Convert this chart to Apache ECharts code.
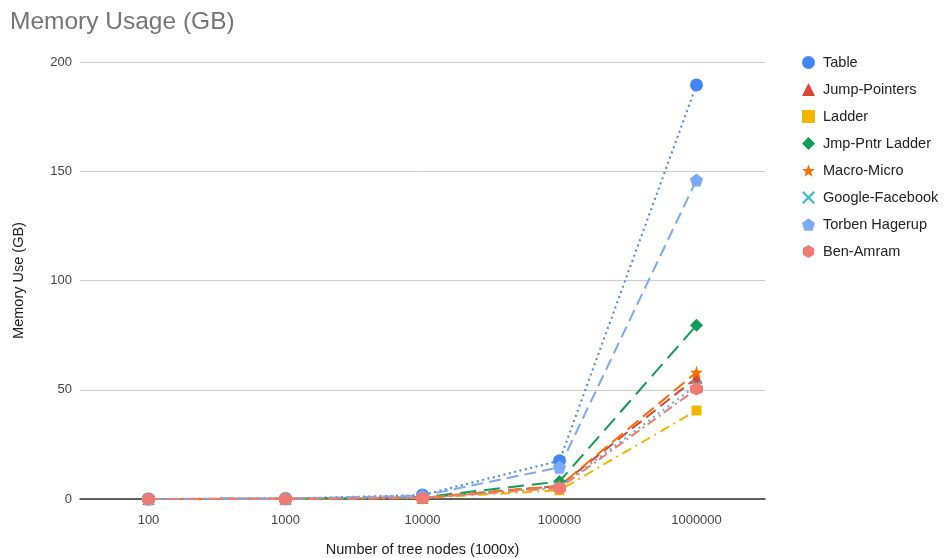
<!DOCTYPE html>
<html>
<head>
<meta charset="utf-8">
<script src="https://cdn.jsdelivr.net/npm/echarts@6/dist/echarts.min.js"></script>
<style>
html,body{margin:0;padding:0;background:#fff;overflow:hidden;}
#chart{width:945px;height:558px;}
</style>
</head>
<body>
<div id="chart"></div>
<script>
// Tree sizes (in thousands of nodes)
const categories = ['100', '1000', '10000', '100000', '1000000'];

// Memory use in GB for each structure
const table          = [0.02, 0.2, 1.8, 17.5, 189.5];
const jumpPointers   = [0.01, 0.1, 0.6, 6.0, 55.5];
const ladder         = [0.01, 0.05, 0.4, 4.0, 40.5];
const jmpPntrLadder  = [0.01, 0.1, 0.8, 8.0, 79.5];
const macroMicro     = [0.01, 0.1, 0.6, 6.0, 58.0];
const googleFacebook = [0.01, 0.1, 0.5, 5.5, 52.0];
const torbenHagerup  = [0.02, 0.15, 1.5, 14.5, 146.0];
const benAmram       = [0.01, 0.05, 0.5, 5.0, 50.3];

const yTicks = [0, 50, 100, 150, 200];

const FONT = '"Liberation Sans", Arial, sans-serif';

const STAR = 'path://M0,-10 L2.35,-3.24 L9.51,-3.09 L3.8,1.24 L5.88,8.09 L0,4 L-5.88,8.09 L-3.8,1.24 L-9.51,-3.09 L-2.35,-3.24Z';
const CROSS = 'path://M-8,-6 L-6,-8 L0,-2 L6,-8 L8,-6 L2,0 L8,6 L6,8 L0,2 L-6,8 L-8,6 L-2,0Z';
const PENTAGON = 'path://M0,-10 L9.51,-3.09 L5.88,8.09 L-5.88,8.09 L-9.51,-3.09Z';
const HEXAGON = 'path://M8.66,-5 L8.66,5 L0,10 L-8.66,5 L-8.66,-5 L0,-10Z';

const seriesDefs = [
  { name: 'Table',            data: table,          color: '#4285F4', symbol: 'circle',   size: 13, dash: [2, 3.5] },
  { name: 'Jump-Pointers',    data: jumpPointers,   color: '#DB4437', symbol: 'triangle', size: 12, dash: [12, 6] },
  { name: 'Ladder',           data: ladder,         color: '#F4B400', symbol: 'rect',     size: 10, dash: [10, 5, 2, 5] },
  { name: 'Jmp-Pntr Ladder',  data: jmpPntrLadder,  color: '#0F9D58', symbol: 'diamond',  size: 13, dash: [16, 8] },
  { name: 'Macro-Micro',      data: macroMicro,     color: '#FF6D01', symbol: STAR,       size: 13, dash: [14, 6] },
  { name: 'Google-Facebook',  data: googleFacebook, color: '#46BDC6', symbol: CROSS,      size: 11, dash: [2, 4] },
  { name: 'Torben Hagerup',   data: torbenHagerup,  color: '#7BAAF7', symbol: PENTAGON,   size: 13, dash: [12, 6] },
  { name: 'Ben-Amram',        data: benAmram,       color: '#F07B72', symbol: HEXAGON,    size: 13, dash: [10, 4, 2, 4] }
];

const chart = echarts.init(document.getElementById('chart'), null, { renderer: 'canvas', width: 945, height: 558 });

chart.setOption({
  backgroundColor: '#ffffff',
  animation: false,
  title: {
    text: 'Memory Usage (GB)',
    left: 5,
    top: 5,
    textStyle: { fontFamily: FONT, fontSize: 24.5, fontWeight: 'normal', color: '#757575' }
  },
  legend: {
    orient: 'vertical',
    left: 797,
    top: 50,
    itemWidth: 13,
    itemHeight: 13,
    itemGap: 12,
    textStyle: { fontFamily: FONT, fontSize: 14.5, color: '#222', padding: [0, 0, 0, 3] },
    data: seriesDefs.map(s => ({ name: s.name, icon: s.symbol }))
  },
  grid: { left: 80, right: 180, top: 62, bottom: 59, containLabel: false, outerBoundsMode: 'none' },
  xAxis: {
    type: 'category',
    data: categories,
    boundaryGap: true,
    name: 'Number of tree nodes (1000x)',
    nameLocation: 'middle',
    nameGap: 43,
    nameTextStyle: { fontFamily: FONT, fontSize: 14.5, color: '#222' },
    axisLine: { lineStyle: { color: '#333', width: 1.5 } },
    axisTick: { show: false },
    axisLabel: { fontFamily: FONT, fontSize: 13, color: '#444', margin: 15 }
  },
  yAxis: {
    type: 'value',
    min: yTicks[0],
    max: yTicks[yTicks.length - 1],
    interval: 50,
    name: 'Memory Use (GB)',
    nameLocation: 'middle',
    nameGap: 54,
    nameTextStyle: { fontFamily: FONT, fontSize: 14.5, color: '#222' },
    axisLine: { show: false },
    axisTick: { show: false },
    axisLabel: { fontFamily: FONT, fontSize: 13, color: '#444', margin: 8 },
    splitLine: { lineStyle: { color: '#cccccc', width: 1 } }
  },
  series: seriesDefs.map(s => ({
    name: s.name,
    type: 'line',
    data: s.data,
    symbol: s.symbol,
    symbolSize: s.size,
    showAllSymbol: true,
    itemStyle: { color: s.color },
    lineStyle: { color: s.color, width: 2, type: s.dash },
    emphasis: { disabled: true }
  }))
});
</script>
</body>
</html>
